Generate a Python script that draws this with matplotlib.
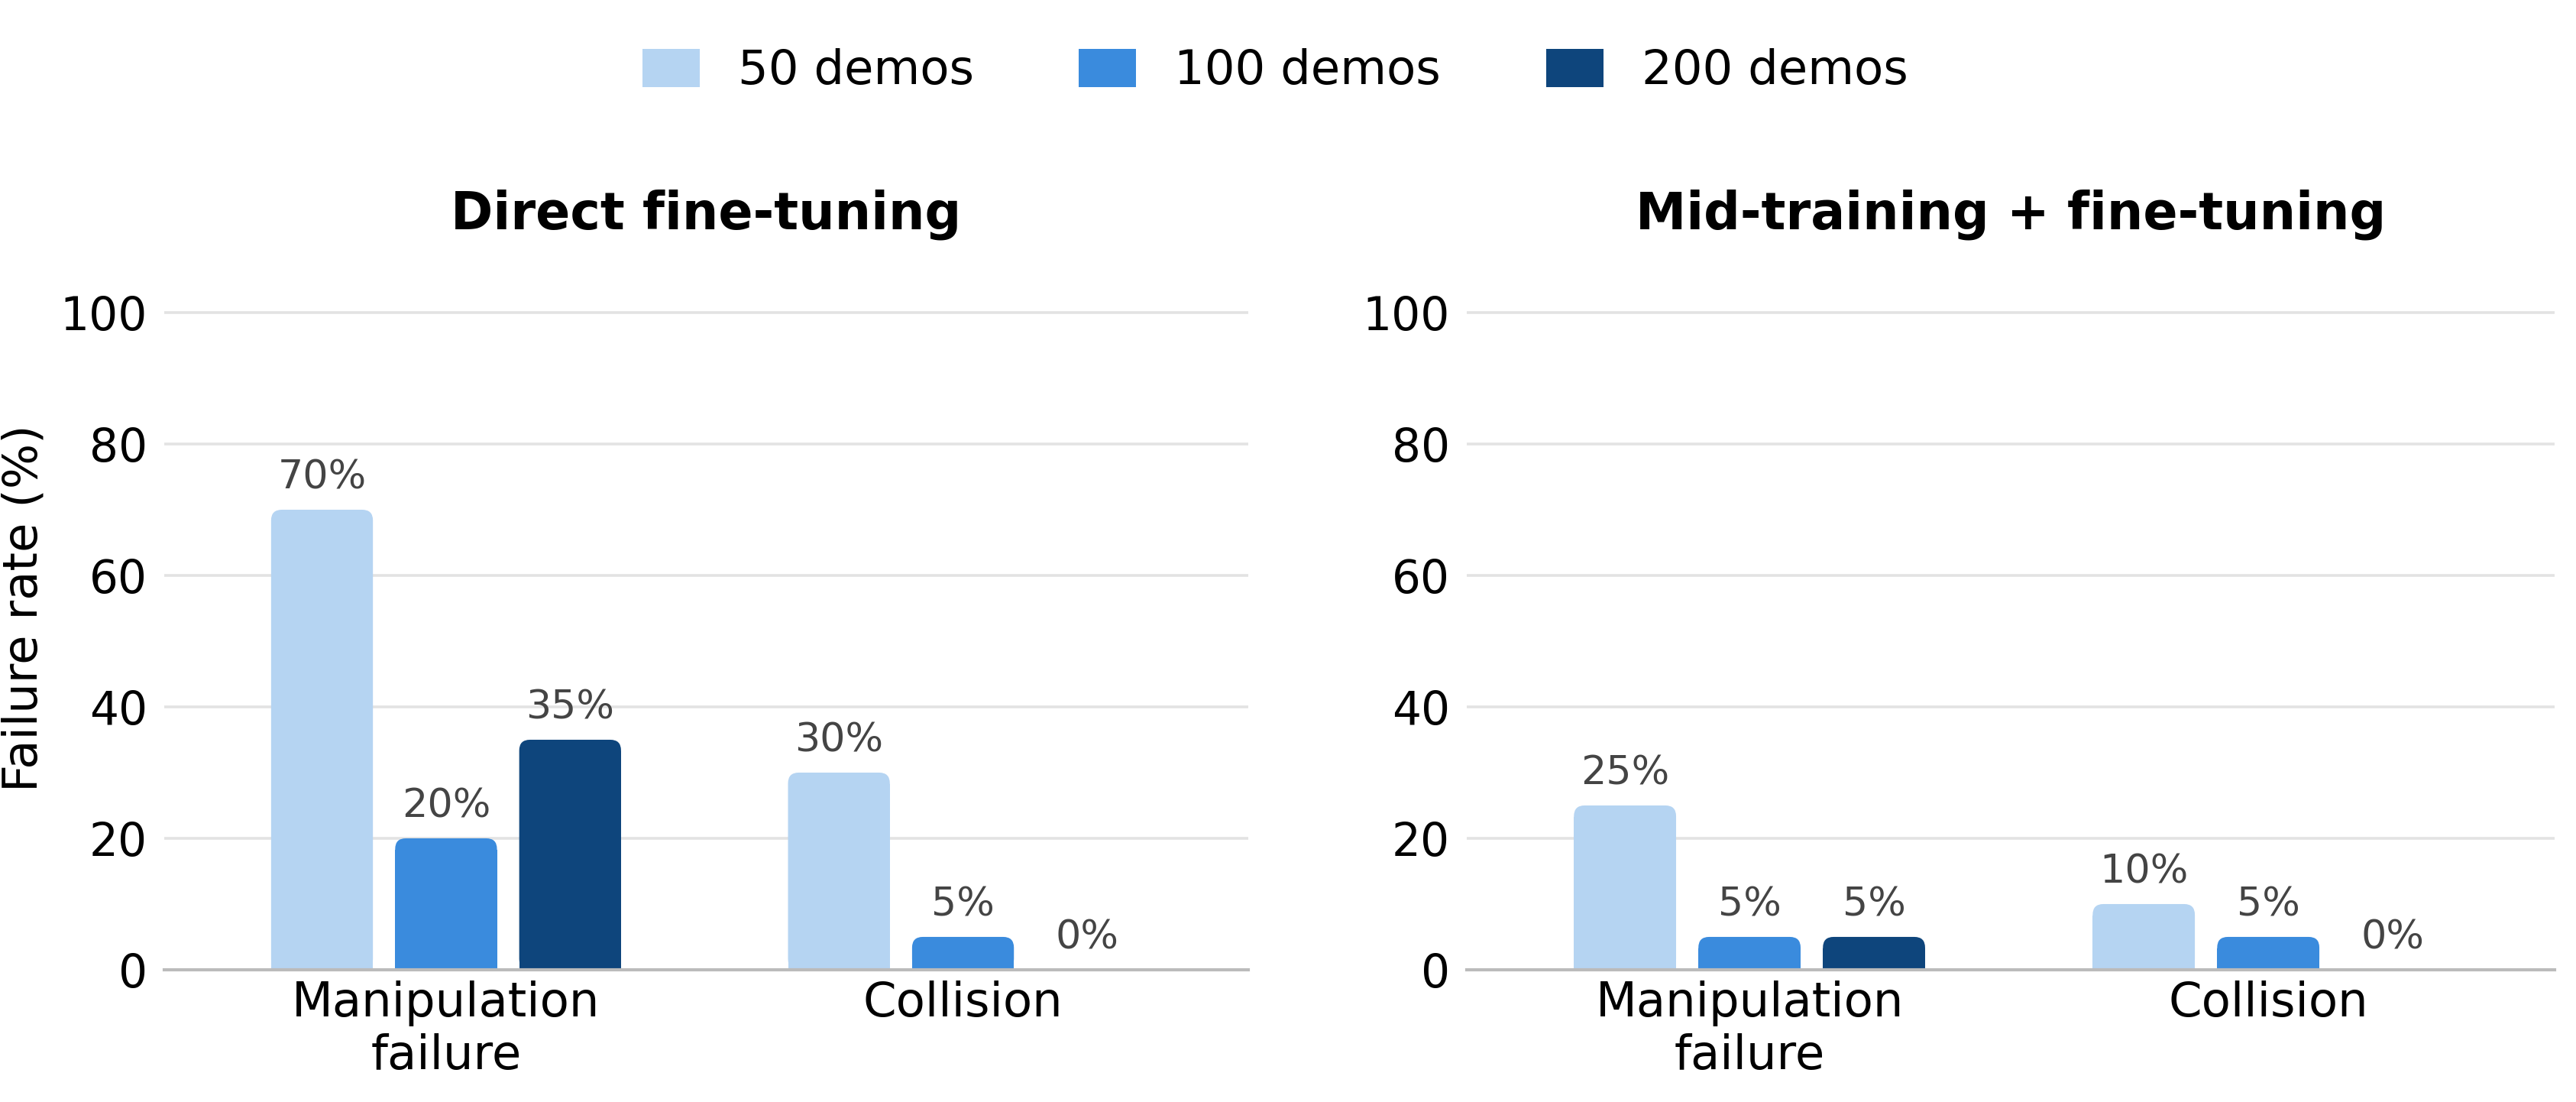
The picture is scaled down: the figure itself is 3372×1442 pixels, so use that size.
import matplotlib
matplotlib.use("Agg")
import matplotlib.pyplot as plt
import numpy as np
from matplotlib.patches import FancyBboxPatch, Rectangle, Patch

# ---- data ----
categories = ["Manipulation\nfailure", "Collision"]
series_names = ["50 demos", "100 demos", "200 demos"]
direct_ft = {"50 demos": [70, 30], "100 demos": [20, 5], "200 demos": [35, 0]}
mid_ft = {"50 demos": [25, 10], "100 demos": [5, 5], "200 demos": [5, 0]}
panel_titles = ["Direct fine-tuning", "Mid-training + fine-tuning"]
yticks = [0, 20, 40, 60, 80, 100]
colors = ["#b5d4f2", "#3a8bdd", "#0e457c"]

plt.rcParams['font.family'] = ['DejaVu Sans']

fig = plt.figure(figsize=(16.86, 7.21), dpi=200)
ax1 = fig.add_axes([0.0638, 0.120, 0.4208, 0.656])
ax2 = fig.add_axes([0.5694, 0.120, 0.4223, 0.656])

bar_w = 0.197
offset = 0.24
ylim_top = 110


def rounded_bar(ax, x_left, width, height, color, radius_px=14):
    if height <= 0:
        return
    trans = ax.transData
    p0 = trans.transform((0, 0))
    px_per_x = trans.transform((1, 0))[0] - p0[0]
    px_per_y = trans.transform((0, 1))[1] - p0[1]
    rx = radius_px / px_per_x
    ry = radius_px / px_per_y
    r = min(rx, width / 2)
    aspect = ry / rx
    if height > 2 * ry:
        patch = FancyBboxPatch((x_left, 0), width, height,
                               boxstyle=f"round,pad=0,rounding_size={r}",
                               mutation_aspect=aspect, fc=color, ec='none', lw=0, zorder=3)
        ax.add_patch(patch)
        ax.add_patch(Rectangle((x_left, 0), width, height - ry * 1.05, fc=color, ec='none', lw=0, zorder=3))
    else:
        rr = min(r, height / 2 / aspect)
        patch = FancyBboxPatch((x_left, 0), width, height,
                               boxstyle=f"round,pad=0,rounding_size={rr}",
                               mutation_aspect=aspect, fc=color, ec='none', lw=0, zorder=3)
        ax.add_patch(patch)
        ax.add_patch(Rectangle((x_left, 0), width, height / 2, fc=color, ec='none', lw=0, zorder=3))


for ax, data, title in [(ax1, direct_ft, panel_titles[0]), (ax2, mid_ft, panel_titles[1])]:
    x = np.arange(len(categories))
    ax.set_xlim(-0.545, 1.552)
    ax.set_ylim(0, ylim_top)
    for i, name in enumerate(series_names):
        vals = data[name]
        xs = x + (i - 1) * offset
        bars = ax.bar(xs, vals, width=bar_w, color=colors[i], alpha=0, zorder=3)
        for b, v in zip(bars, vals):
            rounded_bar(ax, b.get_x(), b.get_width(), b.get_height(), colors[i])
            ax.annotate(f"{v}%", (b.get_x() + b.get_width() / 2, v),
                        xytext=(0, 6), textcoords="offset points",
                        ha="center", va="bottom", fontsize=18.8, color="#444444")
    ax.set_xticks(x)
    ax.set_xticklabels(categories, fontsize=22.5)
    ax.set_yticks(yticks)
    ax.tick_params(axis='y', labelsize=21.5, length=0, pad=8)
    ax.tick_params(axis='x', length=0, pad=5)
    ax.yaxis.grid(True, color="#e3e3e3", lw=1.3, zorder=0)
    ax.set_axisbelow(True)
    for s in ["top", "right", "left"]:
        ax.spines[s].set_visible(False)
    ax.spines["bottom"].set_color("#bbbbbb")
    ax.spines["bottom"].set_linewidth(1.5)
    ax.spines["bottom"].set_zorder(4)
    ax.set_title(title, fontsize=24, fontweight="bold", pad=8.5)

ax1.set_ylabel("Failure rate (%)", fontsize=22.5, labelpad=6)

handles = [Patch(facecolor=c, edgecolor='none') for c in colors]
fig.legend(handles, series_names, loc="upper center", bbox_to_anchor=(0.495, 0.995),
           ncol=3, frameon=False, fontsize=22.5, handlelength=1.2, handleheight=0.86,
           columnspacing=2.2, handletextpad=0.8)

fig.savefig("out.png", dpi=200)
